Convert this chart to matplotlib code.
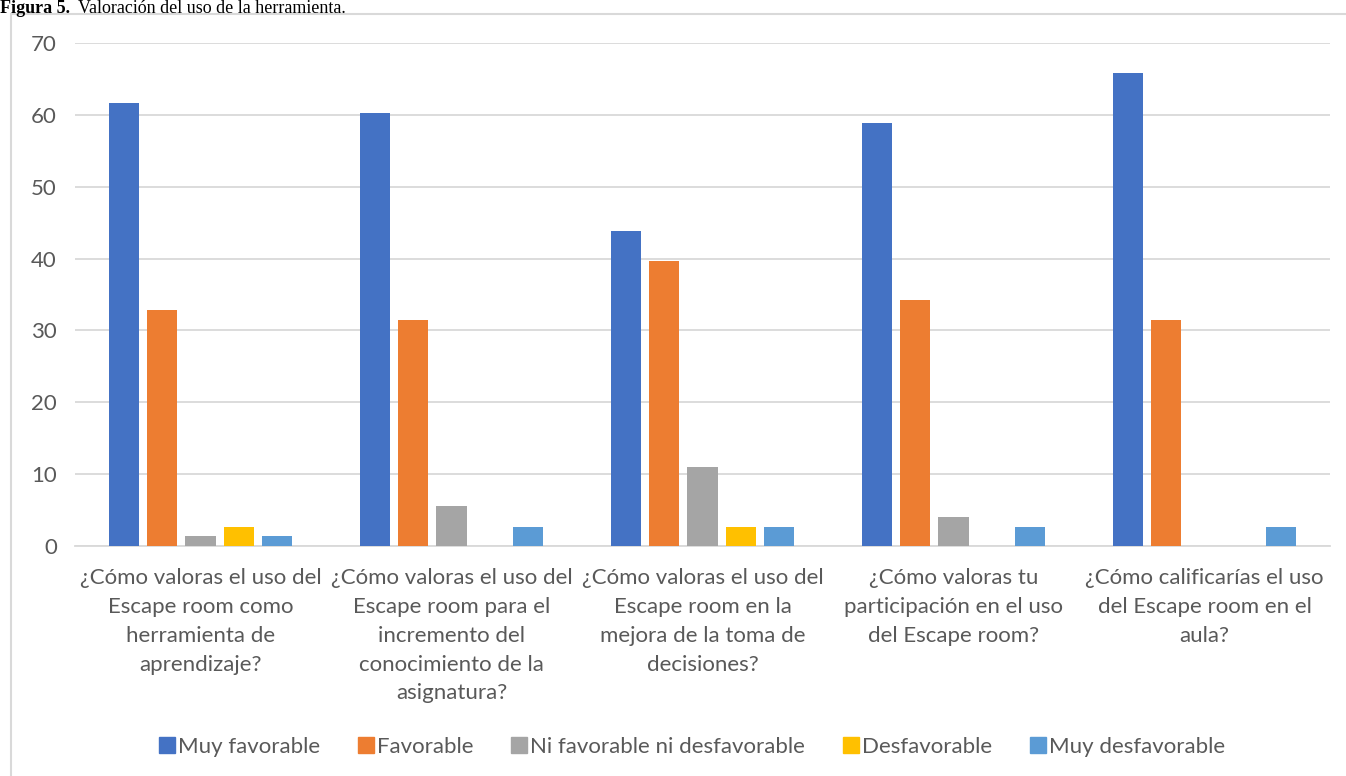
import numpy as np
import matplotlib.pyplot as plt
from matplotlib.patches import Rectangle

categorias = [
    "¿Cómo valoras el uso del\nEscape room como\nherramienta de\naprendizaje?",
    "¿Cómo valoras el uso del\nEscape room para el\nincremento del\nconocimiento de la\nasignatura?",
    "¿Cómo valoras el uso del\nEscape room en la\nmejora de la toma de\ndecisiones?",
    "¿Cómo valoras tu\nparticipación en el uso\ndel Escape room?",
    "¿Cómo calificarías el uso\ndel Escape room en el\naula?",
]
series = ["Muy favorable", "Favorable", "Ni favorable ni desfavorable",
          "Desfavorable", "Muy desfavorable"]
muy_favorable = [61.6, 60.3, 43.8, 58.9, 65.8]
favorable = [32.9, 31.5, 39.7, 34.2, 31.5]
ni_ni = [1.4, 5.5, 11.0, 4.1, 0]
desfavorable = [2.7, 0, 2.7, 0, 0]
muy_desfavorable = [1.4, 2.7, 2.7, 2.7, 2.7]
colores = ["#4472C4", "#ED7D31", "#A5A5A5", "#FFC000", "#5B9BD5"]

valores = [muy_favorable, favorable, ni_ni, desfavorable, muy_desfavorable]

plt.rcParams['font.family'] = ['Lato', 'DejaVu Sans']
fig = plt.figure(figsize=(13.46, 7.76), dpi=100)

# marco del grafico
fig.patches.append(Rectangle((11/1346, -0.01), 1.0, 1 - 14/776 + 0.01,
                             transform=fig.transFigure, fill=False,
                             edgecolor="#d9d9d9", lw=1.5))

fig.text(0.0, 1 - 13/776, "Figura 5.", fontfamily="Liberation Serif",
         fontweight="bold", fontsize=13, va="baseline", ha="left")
fig.text(0.058, 1 - 13/776, "Valoración del uso de la herramienta.",
         fontfamily="Liberation Serif", fontsize=13, va="baseline", ha="left")

ax = fig.add_axes([75/1346, 1 - 546/776, (1330 - 75)/1346, (546 - 43)/776])
x = np.arange(len(categorias))
ancho = 0.12
paso = 0.153
for i, (s, v) in enumerate(zip(series, valores)):
    ax.bar(x + (i - 2) * paso, v, ancho, color=colores[i], label=s, zorder=3)

ax.set_xlim(-0.5, len(categorias) - 0.5)
ax.set_ylim(0, 70)
ax.set_yticks(range(0, 71, 10))
ax.yaxis.grid(True, color="#d9d9d9", lw=1.3, zorder=0)
for sp in ["top", "right", "left"]:
    ax.spines[sp].set_visible(False)
ax.spines["bottom"].set_color("#d9d9d9")
ax.spines["bottom"].set_linewidth(1.3)
ax.set_xticks(x)
ax.set_xticklabels(categorias, fontsize=16, color="#595959", linespacing=1.55)
ax.tick_params(axis="both", length=0, colors="#595959", labelsize=16)
ax.tick_params(axis="y", pad=13)
ax.tick_params(axis="x", pad=16)

handles = [plt.Line2D([], [], marker="s", ls="", color=c, markersize=11) for c in colores]
fig.legend(handles, series, loc="center", bbox_to_anchor=(0.513, 1 - 747/776),
           ncol=5, frameon=False, fontsize=16, labelcolor="#595959",
           handletextpad=0.0, columnspacing=1.55, handlelength=1.0)

plt.savefig("out.png", dpi=100)
